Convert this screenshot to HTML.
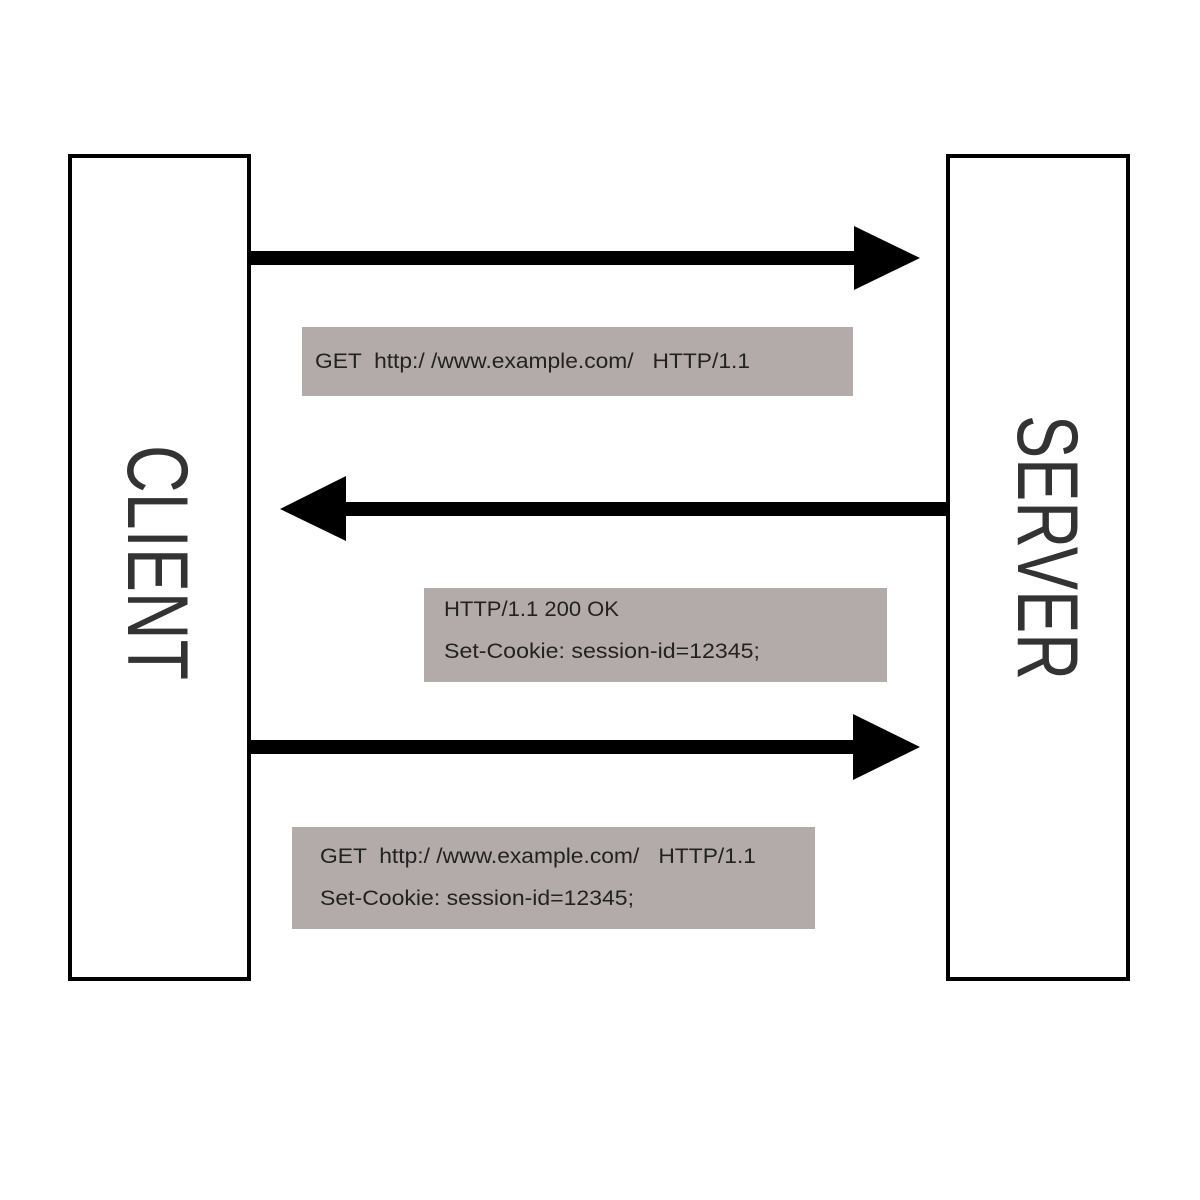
<!DOCTYPE html>
<html><head><style>html,body{margin:0;padding:0;background:#fff;}</style></head>
<body>
<svg width="1200" height="1200" xmlns="http://www.w3.org/2000/svg" style="display:block">
<rect x="0" y="0" width="1200" height="1200" fill="#fff"/>
<rect x="70" y="156" width="179" height="823" fill="none" stroke="#000" stroke-width="4"/>
<rect x="948" y="156" width="180" height="823" fill="none" stroke="#000" stroke-width="4"/>
<rect x="251" y="251" width="606" height="14" fill="#000"/>
<polygon points="854,226 920,258 854,290" fill="#000"/>
<rect x="343" y="502" width="603" height="14" fill="#000"/>
<polygon points="346,476 280,509 346,541" fill="#000"/>
<rect x="251" y="740" width="604" height="14" fill="#000"/>
<polygon points="853,714 920,747 853,780" fill="#000"/>
<rect x="302" y="327" width="551" height="69" fill="#b3abaa"/>
<rect x="424" y="588" width="463" height="94" fill="#b3abaa"/>
<rect x="292" y="827" width="523" height="102" fill="#b3abaa"/>
<g font-family="Liberation Sans, sans-serif" font-size="21" fill="#222">
<text x="315" y="368" xml:space="preserve" textLength="435" lengthAdjust="spacingAndGlyphs">GET  http:/ /www.example.com/   HTTP/1.1</text>
<text x="444" y="616" textLength="175" lengthAdjust="spacingAndGlyphs">HTTP/1.1 200 OK</text>
<text x="444" y="658" textLength="316" lengthAdjust="spacingAndGlyphs">Set-Cookie: session-id=12345;</text>
<text x="320" y="863" xml:space="preserve" textLength="436" lengthAdjust="spacingAndGlyphs">GET  http:/ /www.example.com/   HTTP/1.1</text>
<text x="320" y="905" textLength="314" lengthAdjust="spacingAndGlyphs">Set-Cookie: session-id=12345;</text>
</g>
<g font-family="Liberation Sans, sans-serif" font-size="86" fill="#333">
<text transform="translate(128,445) rotate(90)" textLength="235" lengthAdjust="spacingAndGlyphs">CLIENT</text>
<text transform="translate(1018,415) rotate(90)" textLength="265" lengthAdjust="spacingAndGlyphs">SERVER</text>
</g>
</svg>
</body></html>
